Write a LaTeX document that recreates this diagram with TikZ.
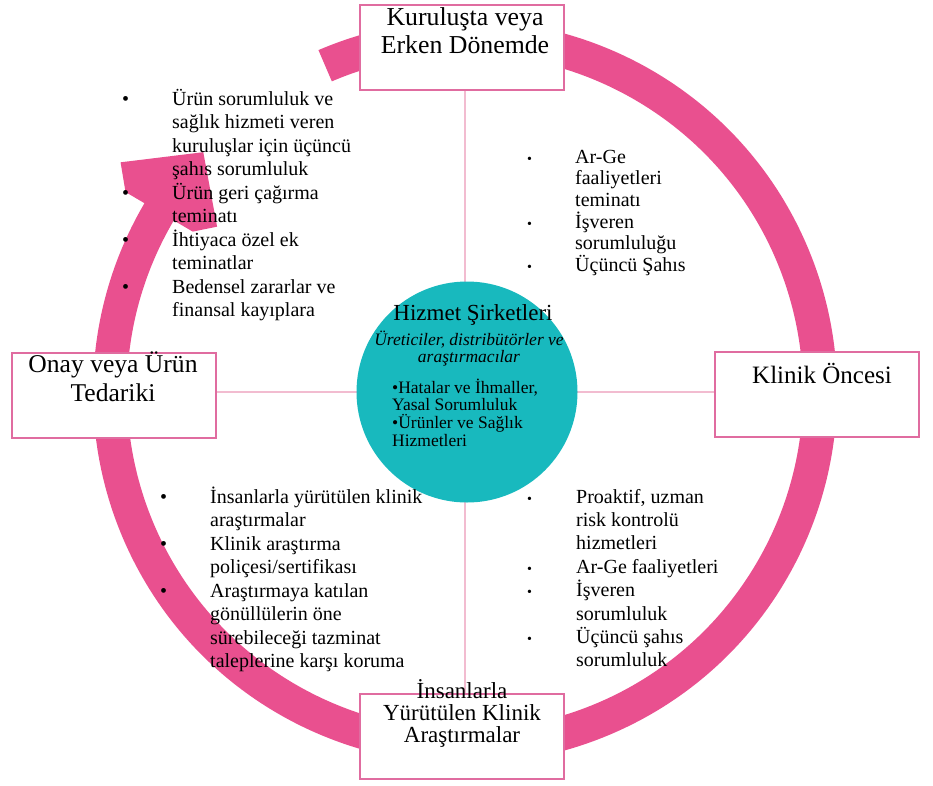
\documentclass[tikz,border=0pt]{standalone}
\usepackage{fontspec}
\setmainfont{Liberation Serif}
\definecolor{ringpink}{RGB}{233,80,143}
\definecolor{boxpink}{RGB}{224,108,160}
\definecolor{linepink}{RGB}{242,188,208}
\definecolor{hubteal}{RGB}{24,185,190}
\newcommand{\itemdot}[2][20]{\makebox[#2][l]{\fontsize{#1}{#1}\selectfont •}}
\newcommand{\itemgap}[1]{\hspace*{#1}}
\begin{document}
\begin{tikzpicture}[x=1pt,y=-1pt,
  stagebox/.style={draw=boxpink, line width=2pt, fill=white, minimum width=204pt, minimum height=85pt, inner sep=0pt},
  stagetext/.style={anchor=base, align=center, inner sep=0pt, font=\fontsize{25.6}{28.5}\selectfont},
  listtext/.style={anchor=base west, align=left, inner sep=0pt, font=\fontsize{20}{23.5}\selectfont},
  crossline/.style={draw=linepink, line width=2pt}]
\useasboundingbox (0,0) rectangle (933,785);
% ring with arrow head
\begin{scope}[shift={(465,392)}, yscale=-1]
  \fill[ringpink] (113.2:372) arc[start angle=113.2, end angle=-210.5, radius=372]
    -- (-210.5:394) -- (-213.7:414) -- (-222.5:355) -- (-213.7:298) -- (-210.5:316) -- (-210.5:338)
    arc[start angle=-210.5, end angle=113.2, radius=338] -- cycle;
\end{scope}
% boxes
\node[stagebox] (tb) at (462,47.5) {};
\node[stagebox] (lb) at (114,395.5) {};
\node[stagebox] (rb) at (817,394.5) {};
\node[stagebox] (bb) at (462,736.5) {};
\coordinate (c) at (465,392);
% cross lines
\draw[crossline] (c |- tb.south) -- (c |- bb.north);
\draw[crossline] (lb.east |- c) -- (rb.west |- c);
% hub
\node[circle, fill=hubteal, minimum size=221pt, inner sep=0pt] (hub) at (467,392) {};
\node[anchor=base, inner sep=0pt, font=\fontsize{23}{23}\selectfont] (hubtitle) at (473,320) {Hizmet Şirketleri};
\node[anchor=base, align=center, inner sep=0pt, font=\fontsize{17.5}{17.5}\selectfont\itshape] (hubsub) at (469,362.5) {Üreticiler, distribütörler ve\\araştırmacılar};
\node[anchor=base west, align=left, inner sep=0pt, font=\fontsize{17.5}{17.8}\selectfont] (hubitems) at (392,446.4) {•Hatalar ve İhmaller,\\Yasal Sorumluluk\\•Ürünler ve Sağlık\\Hizmetleri};
% box texts
\node[stagetext, font=\fontsize{25.8}{28}\selectfont] (tbt) at (465,53) {Kuruluşta veya\\Erken Dönemde};
\node[stagetext, font=\fontsize{25.6}{29}\selectfont] (lbt) at (113,401) {Onay veya Ürün\\Tedariki};
\node[stagetext, font=\fontsize{25}{25}\selectfont] (rbt) at (822,383) {Klinik Öncesi};
\node[stagetext, font=\fontsize{23}{22.2}\selectfont] (bbt) at (462,742.4) {İnsanlarla\\Yürütülen Klinik\\Araştırmalar};
% lists
\node[listtext] (tl) at (122,316.5) {\itemdot{50pt}Ürün sorumluluk ve\\\itemgap{50pt}sağlık hizmeti veren\\\itemgap{50pt}kuruluşlar için üçüncü\\\itemgap{50pt}şahıs sorumluluk\\\itemdot{50pt}Ürün geri çağırma\\\itemgap{50pt}teminatı\\\itemdot{50pt}İhtiyaca özel ek\\\itemgap{50pt}teminatlar\\\itemdot{50pt}Bedensel zararlar ve\\\itemgap{50pt}finansal kayıplara};
\node[listtext, font=\fontsize{20}{21.7}\selectfont] (tr) at (527,271.5) {\itemdot[14]{48pt}Ar-Ge\\\itemgap{48pt}faaliyetleri\\\itemgap{48pt}teminatı\\\itemdot[14]{48pt}İşveren\\\itemgap{48pt}sorumluluğu\\\itemdot[14]{48pt}Üçüncü Şahıs};
\node[listtext] (bl) at (160,667.5) {\itemdot{50pt}İnsanlarla yürütülen klinik\\\itemgap{50pt}araştırmalar\\\itemdot{50pt}Klinik araştırma\\\itemgap{50pt}poliçesi/sertifikası\\\itemdot{50pt}Araştırmaya katılan\\\itemgap{50pt}gönüllülerin öne\\\itemgap{50pt}sürebileceği tazminat\\\itemgap{50pt}taleplerine karşı koruma};
\node[listtext, font=\fontsize{20}{23.4}\selectfont] (br) at (527,666.8) {\itemdot[14]{49pt}Proaktif, uzman\\\itemgap{49pt}risk kontrolü\\\itemgap{49pt}hizmetleri\\\itemdot[14]{49pt}Ar-Ge faaliyetleri\\\itemdot[14]{49pt}İşveren\\\itemgap{49pt}sorumluluk\\\itemdot[14]{49pt}Üçüncü şahıs\\\itemgap{49pt}sorumluluk};
\end{tikzpicture}
\end{document}
